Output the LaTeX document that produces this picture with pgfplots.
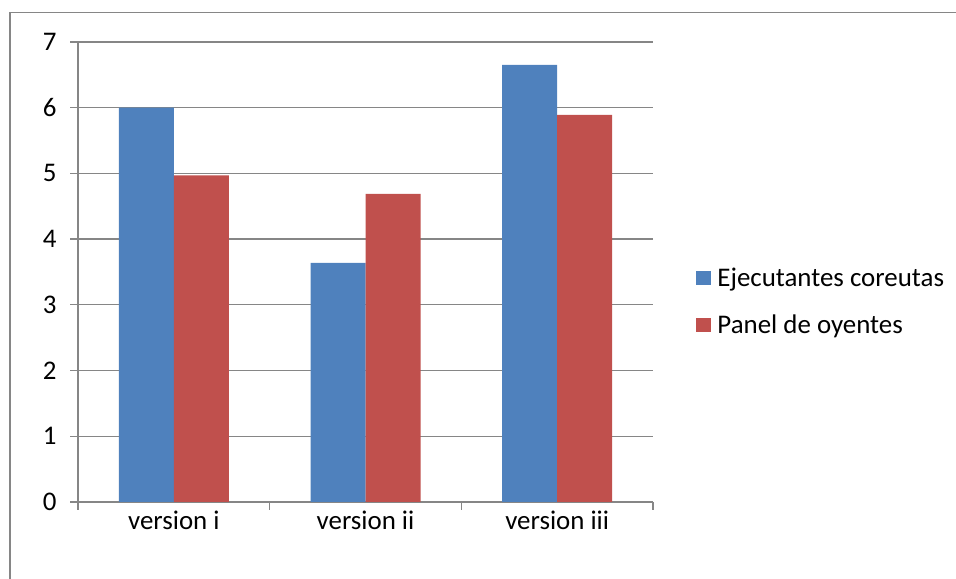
\documentclass[border=0pt]{standalone}
\usepackage{fontspec}
\setmainfont{Carlito}
\usepackage{pgfplots}
\pgfplotsset{compat=1.18}
\definecolor{xlblue}{HTML}{4F81BD}
\definecolor{xlred}{HTML}{C0504D}
\definecolor{xlgrid}{HTML}{868686}
\newcommand{\xlfont}{\fontsize{27}{32}\selectfont}
\begin{document}
\begin{tikzpicture}[x=1bp,y=1bp]
\useasboundingbox (0,0) rectangle (956,579);
% outer chart frame (only top and left edges are in view)
\draw[xlgrid, line width=1.6bp] (10,-10) -- (10,566.5) -- (970,566.5);
\begin{axis}[
    at={(78bp,77bp)}, anchor=south west,
    scale only axis,
    width=575bp, height=460bp,
    ybar=0pt,
    bar width=55bp,
    xmin=0.5, xmax=3.5,
    ymin=0, ymax=7,
    ytick={0,...,7},
    xtick={1,2,3},
    xticklabels={version i, version ii, version iii},
    minor xtick={0.5,1.5,2.5,3.5},
    major x tick style={draw=none},
    tick align=outside,
    major tick length=8bp,
    minor tick length=8bp,
    axis x line*=bottom, axis y line*=left,
    axis line style={xlgrid, line width=1.3bp, -},
    every tick/.style={xlgrid, line width=1.3bp},
    ymajorgrids,
    major grid style={xlgrid, line width=1.3bp},
    /pgf/number format/assume math mode=true,
    tick label style={font=\xlfont, text=black},
    yticklabel style={xshift=-10bp},
    xticklabel style={yshift=3bp},
    legend style={at={(axis description cs:1.07,0.435)}, anchor=west,
        draw=none, fill=none, font=\xlfont, row sep=23bp},
    legend cell align=left,
    legend image code/.code={\fill[#1] (0bp,-7bp) rectangle (15bp,7bp);
        \path (19bp,0bp);},
]
\addplot[fill=xlblue, draw=none] coordinates {(1,6.00) (2,3.64) (3,6.65)};
\addplot[fill=xlred, draw=none] coordinates {(1,4.97) (2,4.69) (3,5.89)};
\legend{Ejecutantes coreutas, Panel de oyentes}
\end{axis}
\end{tikzpicture}
\end{document}
